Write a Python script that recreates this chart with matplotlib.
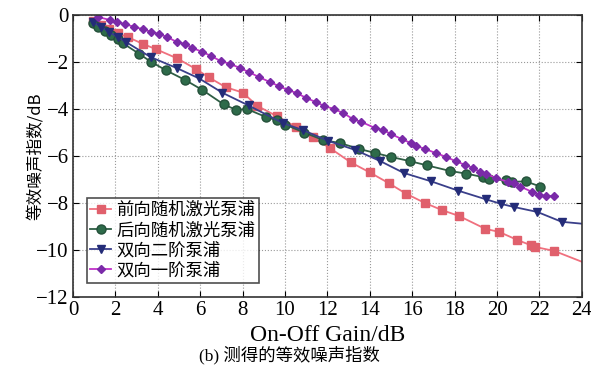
import numpy as np
import matplotlib
matplotlib.use("Agg")
import matplotlib.pyplot as plt

plt.rcParams['font.family'] = ['Liberation Serif', 'Noto Sans CJK SC']
plt.rcParams['axes.unicode_minus'] = True

# 前向随机激光泵浦 (last point only carries the line to the edge)
fwd_x = [0.95, 1.3, 1.7, 2.1, 2.58, 3.3, 3.9, 4.9, 5.8, 6.4, 7.2, 8.0, 8.7, 9.6, 10.5,
         11.3, 12.1, 13.1, 14.0, 14.9, 15.7, 16.6, 17.4, 18.2, 19.45, 20.1, 20.95,
         21.6, 21.8, 22.7, 24.0]
fwd_y = [-0.25, -0.42, -0.6, -0.78, -0.94, -1.23, -1.45, -1.84, -2.3, -2.65, -3.07,
         -3.3, -3.87, -4.3, -4.75, -5.2, -5.65, -6.27, -6.7, -7.16, -7.6, -8.0, -8.3,
         -8.55, -9.1, -9.23, -9.57, -9.8, -9.87, -10.04, -10.5]

# 后向随机激光泵浦
bwd_x = [0.94, 1.2, 1.5, 1.8, 2.1, 2.35, 3.1, 3.66, 4.4, 5.3, 6.1, 7.1, 7.7, 8.2, 9.1,
         9.6, 10.0, 10.9, 11.8, 12.6, 13.5, 14.25, 15.0, 15.9, 16.7, 17.8, 18.55,
         19.35, 19.6, 20.4, 20.7, 21.35, 22.05]
bwd_y = [-0.34, -0.5, -0.68, -0.85, -1.02, -1.2, -1.64, -1.98, -2.36, -2.77, -3.19,
         -3.8, -4.04, -4.0, -4.34, -4.47, -4.66, -5.0, -5.32, -5.45, -5.7, -5.87,
         -6.04, -6.22, -6.4, -6.64, -6.75, -6.9, -6.97, -7.04, -7.1, -7.08, -7.3]

# 双向二阶泵浦 (last point only carries the line to the edge)
bi2_x = [0.94, 1.3, 1.7, 2.1, 2.5, 3.66, 4.9, 5.95, 7.05, 8.28, 9.9, 10.85, 12.05,
         13.3, 14.5, 15.6, 16.9, 18.15, 19.5, 20.2, 20.8, 21.9, 23.05, 24.0]
bi2_y = [-0.3, -0.5, -0.72, -0.94, -1.15, -1.79, -2.26, -2.7, -3.31, -3.85, -4.6,
         -4.9, -5.36, -5.74, -6.22, -6.72, -7.08, -7.47, -7.85, -8.04, -8.17, -8.38,
         -8.8, -8.88]

# 双向一阶泵浦
bi1_x = [1.17, 1.73, 2.06, 2.44, 2.9, 3.28, 3.7, 4.08, 4.45, 4.9, 5.3, 5.63, 6.1, 6.5,
         6.97, 7.4, 7.9, 8.3, 8.77, 9.28, 9.7, 10.13, 10.55, 11.0, 11.44, 11.85, 12.3,
         12.75, 13.2, 13.6, 14.25, 14.6, 15.0, 15.5, 15.94, 16.2, 16.6, 17.1, 17.6,
         18.05, 18.5, 18.85, 19.2, 19.5, 19.97, 20.5, 20.8, 21.1, 21.66, 22.0, 22.3, 22.7]
bi1_y = [-0.08, -0.21, -0.3, -0.38, -0.51, -0.6, -0.72, -0.81, -0.94, -1.15, -1.23,
         -1.4, -1.57, -1.74, -1.96, -2.08, -2.26, -2.43, -2.64, -2.85, -3.02, -3.19,
         -3.32, -3.53, -3.7, -3.87, -4.0, -4.17, -4.43, -4.55, -4.81, -4.89, -5.06,
         -5.28, -5.45, -5.57, -5.7, -5.87, -6.04, -6.22, -6.38, -6.5, -6.68, -6.77,
         -6.94, -7.1, -7.15, -7.3, -7.53, -7.66, -7.7, -7.7]

labels = ['前向随机激光泵浦', '后向随机激光泵浦', '双向二阶泵浦', '双向一阶泵浦']

fig = plt.figure(figsize=(5.91, 3.75), dpi=100)
ax = fig.add_axes([0.1235, 0.208, 0.861, 0.752])

ax.plot(fwd_x, fwd_y, color='#f0707e', lw=1.3, marker='s', ms=6,
        mfc='#e0606c', mec='#e0606c', markevery=list(range(len(fwd_x) - 1)),
        label=labels[0])
ax.plot(bwd_x, bwd_y, color='#2f5e45', lw=1.3, marker='o', ms=6.5,
        mfc='#2e6b4a', mec='#24503a', label=labels[1])
ax.plot(bi2_x, bi2_y, color='#3a3f8a', lw=1.3, marker='v', ms=5.5,
        mfc='#242c78', mec='#242c78', markevery=list(range(len(bi2_x) - 1)),
        label=labels[2])
ax.plot(bi1_x, bi1_y, color='#c032c8', lw=1.3, marker='D', ms=4.5,
        mfc='#7a2aa8', mec='#7a2aa8', label=labels[3])

ax.set_xlim(0, 24)
ax.set_ylim(-12, 0)
ax.set_xticks(np.arange(0, 25, 2))
ax.set_yticks(np.arange(-12, 1, 2))
ax.tick_params(direction='in', top=True, right=True, labelsize=15, length=4, pad=3)
ax.grid(True, linestyle=':', color='#999999', lw=0.8)
for s in ax.spines.values():
    s.set_linewidth(1.2)
    s.set_color('#333333')

ax.set_xlabel('On-Off Gain/dB', fontsize=17)
ax.xaxis.set_label_coords(0.5, -0.1)
ax.set_ylabel('等效噪声指数/dB', fontsize=12, family=['Noto Sans CJK SC', 'DejaVu Sans'])
ax.yaxis.set_label_coords(-0.056, 0.5)

leg = ax.legend(loc='lower left', bbox_to_anchor=(0.027, 0.05),
                prop={'family': ['Noto Sans CJK SC'], 'size': 12.5},
                frameon=True, fancybox=False, edgecolor='#222222',
                borderpad=0.2, labelspacing=0.12, handlelength=1.2,
                handletextpad=0.3, borderaxespad=0)
leg.get_frame().set_linewidth(1.2)

fig.text(0.49, 0.053, '(b) 测得的等效噪声指数', fontsize=12.5, ha='center', va='center',
         family=['Liberation Serif', 'Noto Sans CJK SC'])

fig.savefig('out.png', dpi=100)
